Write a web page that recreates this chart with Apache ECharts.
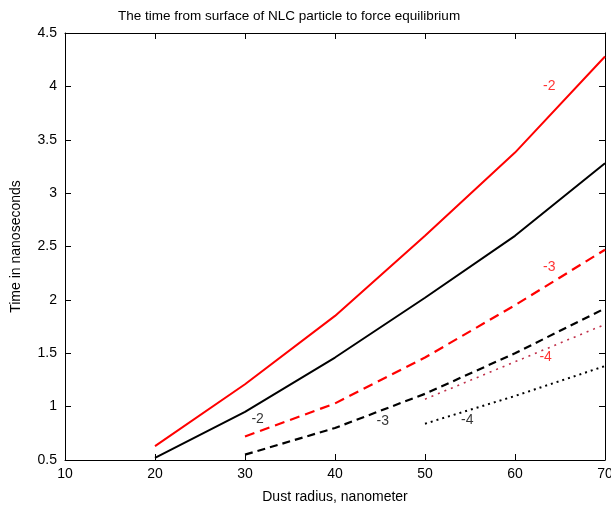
<!DOCTYPE html>
<html><head><meta charset="utf-8">
<script src="https://cdn.jsdelivr.net/npm/echarts@6/dist/echarts.min.js"></script>
<style>html,body{margin:0;padding:0;background:#fff}#c{width:611px;height:506px}</style>
</head><body><div id="c"></div>
<script>
const radius = [20, 30, 40, 50, 60, 70];
const redSolid   = [0.63, 1.21, 1.85, 2.60, 3.38, 4.28];
const blackSolid = [0.52, 0.95, 1.46, 2.02, 2.60, 3.28];
const redDashed  = [null, 0.72, 1.03, 1.46, 1.95, 2.47];
const blackDashed= [null, 0.55, 0.80, 1.12, 1.50, 1.92];
const redDotted  = [null, null, null, 1.07, 1.42, 1.77];
const blackDotted= [null, null, null, 0.84, 1.10, 1.38];
const xTicks = [10, 20, 30, 40, 50, 60, 70];
const yTicks = [0.5, 1, 1.5, 2, 2.5, 3, 3.5, 4, 4.5];
const lineLabels = ['-2', '-2', '-3', '-3', '-4', '-4'];

const font = 'Liberation Sans, Arial, sans-serif';
function pts(arr){ return radius.map((x,i)=>[x,arr[i]]).filter(p=>p[1]!==null); }
function ser(name, arr, color, width, type){
  return {name, type:'line', data:pts(arr), symbol:'none', silent:true,
    lineStyle:{color, width, type}, animation:false};
}
function labelSeries(text, coord, color){
  return {type:'scatter', data:[coord], symbol:'circle', symbolSize:2, silent:true,
    itemStyle:{color:'rgba(0,0,0,0)'}, animation:false,
    label:{show:true, position:'inside', formatter:text, color, fontSize:14, fontFamily:font,
      textBorderWidth:0, textShadowBlur:0}};
}
const chart = echarts.init(document.getElementById('c'));
const axisCommon = {
  axisLine:{show:true, onZero:false, lineStyle:{color:'#000', width:1}},
  axisTick:{show:true, inside:true, length:6, lineStyle:{color:'#000'}},
  splitLine:{show:false}
};
chart.setOption({
  backgroundColor:'#fff',
  animation:false,
  title:{text:'The time from surface of NLC particle to force equilibrium', left:113, top:4,
    textStyle:{fontSize:13.5, fontWeight:'normal', color:'#000', fontFamily:font}},
  grid:{left:65, right:6, top:33, bottom:46, outerBoundsMode:'none', containLabel:false},
  xAxis:[
    Object.assign({type:'value', min:10, max:70, interval:10, position:'bottom',
      name:'Dust radius, nanometer', nameLocation:'middle', nameGap:30,
      nameTextStyle:{fontSize:14, color:'#000', fontFamily:font},
      axisLabel:{color:'#000', fontSize:14, fontFamily:font, margin:7,
        formatter:v=>xTicks.includes(v)?String(v):''}}, axisCommon),
    Object.assign({type:'value', min:10, max:70, interval:10, position:'top', axisLabel:{show:false}}, axisCommon)
  ],
  yAxis:[
    Object.assign({type:'value', min:0.5, max:4.5, interval:0.5, position:'left',
      name:'Time in nanoseconds', nameLocation:'middle', nameGap:42,
      nameTextStyle:{fontSize:14, color:'#000', fontFamily:font},
      axisLabel:{color:'#000', fontSize:14, fontFamily:font, margin:8,
        formatter:v=>yTicks.includes(v)?String(v):''}}, axisCommon),
    Object.assign({type:'value', min:0.5, max:4.5, interval:0.5, position:'right', axisLabel:{show:false}}, axisCommon)
  ],
  series:[
    ser('red -2', redSolid, '#ff0000', 2, 'solid'),
    ser('black -2', blackSolid, '#000000', 2, 'solid'),
    ser('red -3', redDashed, '#ff0000', 2.2, [10,6]),
    ser('black -3', blackDashed, '#000000', 2.2, [8,5]),
    ser('red -4', redDotted, '#c0304a', 1.6, [2,5]),
    ser('black -4', blackDotted, '#000000', 2, [2,4]),
    labelSeries(lineLabels[0], [63.8, 4.00], '#ff0000'),
    labelSeries(lineLabels[1], [31.4, 0.88], '#000000'),
    labelSeries(lineLabels[2], [63.8, 2.31], '#ff0000'),
    labelSeries(lineLabels[3], [45.3, 0.86], '#000000'),
    labelSeries(lineLabels[4], [63.4, 1.46], '#ff0000'),
    labelSeries(lineLabels[5], [54.7, 0.87], '#000000')
  ]
});
</script></body></html>
